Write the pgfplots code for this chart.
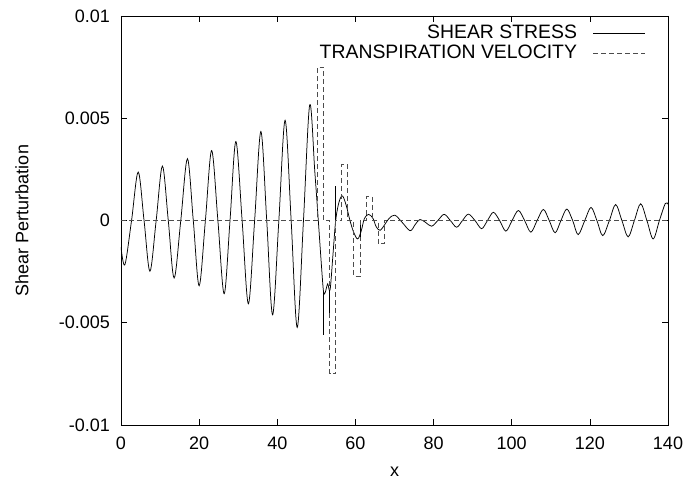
\documentclass[border=0pt]{standalone}
\usepackage{pgfplots}
\pgfplotsset{compat=1.18}
\usepackage{fontspec}
\setmainfont{Liberation Sans}
\begin{document}
\fontsize{18bp}{21bp}\selectfont
\begin{tikzpicture}
\begin{axis}[
  name=ax,
  scale only axis,
  width=547bp, height=409bp,
  xmin=0, xmax=140, ymin=-0.01, ymax=0.01,
  xtick={0,20,40,60,80,100,120,140},
  ytick={-0.01,-0.005,0,0.005,0.01},
  yticklabels={-0.01,-0.005,0,0.005,0.01},
  scaled y ticks=false,
  /pgf/number format/assume math mode=true,
  xlabel={x}, ylabel={Shear Perturbation},
  xlabel style={at={(axis description cs:0.5,0)}, anchor=center, yshift=-47bp},
  ylabel style={at={(axis description cs:-0.181,0.5)}, anchor=center},
  xticklabel style={yshift=-6bp},
  yticklabel style={xshift=-5bp},
  axis line style={line width=0.8bp},
  tick style={black, line width=0.6bp},
  major tick length=6bp,
  legend style={at={(1,1)}, anchor=north east, xshift=-20bp, yshift=-5bp,
    draw=none, fill=none, legend plot pos=right, legend cell align=right,
    row sep=0bp, inner sep=2bp, font=\fontsize{19.4bp}{22bp}\selectfont},
  legend image code/.code={\path (0bp,0bp); \draw[#1] (14bp,0bp) -- (66bp,0bp);},
]
\addplot[black, line width=0.75bp, smooth, tension=0.55] coordinates {
(0,-0.0013) (1.0,-0.00216) (2.7,0) (4.4,0.00237) (5.9,0) (7.4,-0.00248)
(9.0,0) (10.6,0.00266) (12.1,0) (13.6,-0.00281) (15.3,0) (17.0,0.00302)
(18.5,0) (20.0,-0.00319) (21.6,0) (23.2,0.00342) (24.8,0) (26.4,-0.00358)
(27.9,0) (29.4,0.00386) (31.0,0) (32.6,-0.00407) (34.2,0) (35.8,0.00435)
(37.3,0) (38.8,-0.00461) (40.4,0) (42.0,0.0049) (43.55,0) (45.1,-0.00523)
(46.7,0) (48.3,0.00566) (49.6,0.0024) (50.5,0) (51.3,-0.0022) (51.85,-0.0035)
(52.3,-0.0035) (52.9,-0.0031) (53.5,-0.0034) (54.2,-0.0018) (54.95,0)
(55.8,0.0009) (56.7,0.0012) (57.7,0.0007) (58.6,0) (59.6,-0.0006)
(60.6,-0.0009) (61.5,-0.0005) (62.3,0.0001) (63.4,0.0003) (64.5,0.0001)
(65.3,-0.0003) (66.3,-0.00048) (67.5,-0.0002) (68.6,0.0001) (70.1,0.00026)
(72.0,-0.0001) (74.0,-0.0005) (75.3,-0.0002) (76.5,0.00005) (78.0,-0.0001)
(79.5,-0.00028) (81.1,0) (82.7,0.0003) (84.3,0) (85.9,-0.00033) (87.4,0)
(88.9,0.00031) (90.6,0) (92.3,-0.0004) (93.8,0) (95.3,0.0004) (96.9,0)
(98.5,-0.00052) (100.1,0) (101.7,0.00049) (103.3,0) (104.9,-0.00057)
(106.5,0) (108.1,0.00054) (109.6,0) (111.1,-0.0006) (112.6,0) (114.1,0.00056)
(115.6,0) (117.0,-0.00069) (118.7,0) (120.3,0.00064) (121.8,0) (123.3,-0.00074)
(125.0,0) (126.6,0.00078) (128.2,0) (129.8,-0.0008) (131.4,0) (133.0,0.00082)
(134.6,0) (136.2,-0.0009) (137.8,0) (139.3,0.00083) (140,0.0008)
};
\addlegendentry{SHEAR STRESS}
\addplot[black!70, line width=0.8bp, dash pattern=on 5bp off 3bp] coordinates {
(0,0) (50.3,0) (50.3,0.0075) (51.85,0.0075) (51.85,0) (53.4,0) (53.4,-0.0075)
(54.95,-0.0075) (54.95,0) (56.5,0) (56.5,0.00274) (58.05,0.00274) (58.05,0)
(59.6,0) (59.6,-0.00273) (61.15,-0.00273) (61.15,0) (62.7,0) (62.7,0.00116)
(64.25,0.00116) (64.25,0) (65.8,0) (65.8,-0.00113) (67.35,-0.00113) (67.35,0)
(140,0)
};
\addlegendentry{TRANSPIRATION VELOCITY}
\addplot[black, line width=0.75bp, forget plot] coordinates {(51.85,-0.0035) (51.85,-0.0056)};
\addplot[black, line width=0.75bp, forget plot] coordinates {(53.4,-0.0034) (53.4,-0.0045)};
\addplot[black, line width=0.75bp, forget plot] coordinates {(54.95,0) (54.95,0.0017)};
\addplot[black, line width=0.75bp, forget plot] coordinates {(61.15,-0.0008) (61.15,-0.0002)};
\end{axis}
\pgfresetboundingbox
\path ([xshift=-121bp,yshift=-60bp]ax.south west) rectangle ([xshift=15bp,yshift=16bp]ax.north east);
\end{tikzpicture}
\end{document}
